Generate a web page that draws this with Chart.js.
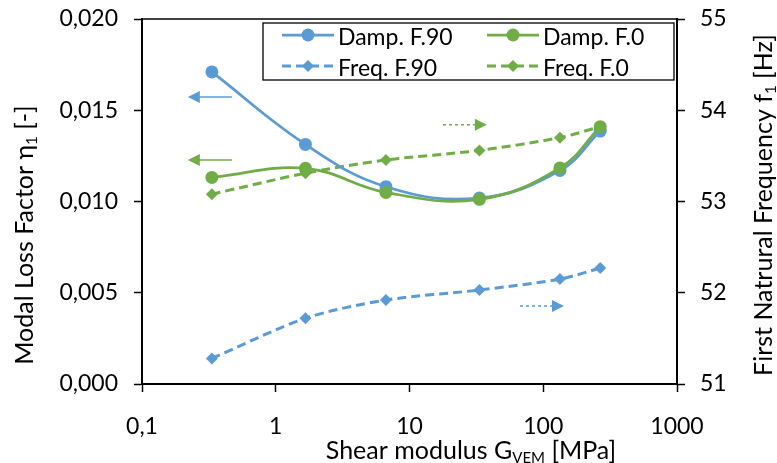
<!DOCTYPE html>
<html>
<head>
<meta charset="utf-8">
<script src="https://cdn.jsdelivr.net/npm/chart.js@4.4.0/dist/chart.umd.min.js"></script>
<style>
  html, body { margin: 0; padding: 0; background: #fff; }
  #wrap { width: 777px; height: 463px; }
</style>
</head>
<body>
<div id="wrap"><canvas id="myChart"></canvas></div>
<script>
// data
const shearModulus = [0.333, 1.667, 6.667, 33.33, 133.3, 266.7];
const dampF90 = [0.01710, 0.01313, 0.01081, 0.01019, 0.01170, 0.01386];
const dampF0  = [0.01132, 0.01182, 0.01050, 0.01012, 0.01184, 0.01410];
const freqF90 = [51.28, 51.72, 51.92, 52.03, 52.15, 52.27];
const freqF0  = [53.08, 53.31, 53.455, 53.56, 53.70, 53.82];
const xTicks = [0.1, 1, 10, 100, 1000];

// arrows pointing to the axis each series belongs to (data units)
const arrowTail = [0.47, 0.47, 17.8, 67];
const arrowHead = [0.22, 0.22, 37.9, 143];
const arrowLevel = [0.01573, 0.01227, 53.84, 51.855];
const arrowAxis = ['y', 'y', 'y2', 'y2'];

const BLUE = '#5b9bd5';
const GREEN = '#70ad47';
const arrowColor = [BLUE, GREEN, GREEN, BLUE];
const FONT = 'Lato, "Open Sans", sans-serif';

const pts = (ys) => ys.map((v, i) => ({ x: shearModulus[i], y: v }));

const data = {
  datasets: [
    { label: 'Damp. F.90', data: pts(dampF90), yAxisID: 'y', borderColor: BLUE, backgroundColor: BLUE,
      borderWidth: 2.75, pointStyle: 'circle', pointRadius: 6.5, pointBorderWidth: 0, tension: 0.4, order: 1 },
    { label: 'Damp. F.0', data: pts(dampF0), yAxisID: 'y', borderColor: GREEN, backgroundColor: GREEN,
      borderWidth: 2.75, pointStyle: 'circle', pointRadius: 6.5, pointBorderWidth: 0, tension: 0.4, order: 0 },
    { label: 'Freq. F.90', data: pts(freqF90), yAxisID: 'y2', borderColor: BLUE, backgroundColor: BLUE,
      borderWidth: 3, borderDash: [9, 5], pointStyle: 'rectRot', pointRadius: 6, pointBorderWidth: 0, tension: 0.3, order: 3 },
    { label: 'Freq. F.0', data: pts(freqF0), yAxisID: 'y2', borderColor: GREEN, backgroundColor: GREEN,
      borderWidth: 3, borderDash: [9, 5], pointStyle: 'rectRot', pointRadius: 6, pointBorderWidth: 0, tension: 0.3, order: 2 }
  ]
};

// text with a subscript part, parts = [[text, isSub], ...]
function richText(ctx, parts, x, y, rot, size) {
  ctx.save();
  ctx.translate(x, y);
  ctx.rotate(rot);
  const subSize = Math.round(size * 0.6);
  let total = 0;
  const widths = parts.map(p => {
    ctx.font = (p[1] ? subSize : size) + 'px ' + FONT;
    const w = ctx.measureText(p[0]).width;
    total += w;
    return w;
  });
  let cx = -total / 2;
  ctx.fillStyle = '#000';
  ctx.textBaseline = 'alphabetic';
  ctx.textAlign = 'left';
  parts.forEach((p, i) => {
    ctx.font = (p[1] ? subSize : size) + 'px ' + FONT;
    ctx.fillText(p[0], cx, p[1] ? size * 0.14 : 0);
    cx += widths[i];
  });
  ctx.restore();
}

const decorations = {
  id: 'decorations',
  afterDatasetsDraw(chart) {
    const { ctx, chartArea, scales } = chart;
    ctx.save();

    // top frame line
    ctx.strokeStyle = '#000';
    ctx.lineWidth = 1.5;
    ctx.beginPath();
    ctx.moveTo(chartArea.left, chartArea.top);
    ctx.lineTo(chartArea.right, chartArea.top);
    ctx.stroke();

    // arrows
    for (let i = 0; i < arrowTail.length; i++) {
      const x0 = scales.x.getPixelForValue(arrowTail[i]);
      const x1 = scales.x.getPixelForValue(arrowHead[i]);
      const y = scales[arrowAxis[i]].getPixelForValue(arrowLevel[i]);
      const dir = x1 > x0 ? 1 : -1;
      ctx.strokeStyle = arrowColor[i];
      ctx.fillStyle = arrowColor[i];
      ctx.lineWidth = 1.5;
      ctx.setLineDash(arrowAxis[i] == 'y2' ? [3, 3] : []);
      ctx.beginPath();
      ctx.moveTo(x0, y);
      ctx.lineTo(x1 - dir * 10, y);
      ctx.stroke();
      ctx.setLineDash([]);
      ctx.beginPath();
      ctx.moveTo(x1, y);
      ctx.lineTo(x1 - dir * 12, y - 6);
      ctx.lineTo(x1 - dir * 12, y + 6);
      ctx.closePath();
      ctx.fill();
    }

    // legend box
    const bx = 263, by = 23, bw = 411, bh = 57;
    ctx.fillStyle = '#fff';
    ctx.fillRect(bx, by, bw, bh);
    ctx.strokeStyle = '#000';
    ctx.lineWidth = 1.3;
    ctx.strokeRect(bx, by, bw, bh);
    const legendOrder = [0, 1, 2, 3];
    legendOrder.forEach((idx, i) => {
      const ds = chart.data.datasets[idx];
      const col = i % 2, row = Math.floor(i / 2);
      const lx = 282 + col * 205;
      const ly = 35 + row * 31;
      ctx.strokeStyle = ds.borderColor;
      ctx.lineWidth = ds.borderWidth;
      ctx.setLineDash(ds.borderDash || []);
      ctx.beginPath();
      ctx.moveTo(lx, ly);
      ctx.lineTo(lx + 52, ly);
      ctx.stroke();
      ctx.setLineDash([]);
      ctx.fillStyle = ds.backgroundColor;
      Chart.helpers.drawPoint(ctx, { pointStyle: ds.pointStyle, radius: ds.pointRadius, borderWidth: 0, rotation: 0 }, lx + 26, ly);
      ctx.fillStyle = '#000';
      ctx.font = '23px ' + FONT;
      ctx.textBaseline = 'alphabetic';
      ctx.textAlign = 'left';
      ctx.fillText(ds.label, lx + 56, ly + 10);
    });
    ctx.restore();

    // axis titles
    richText(ctx, [['Shear modulus G', false], ['VEM', true], [' [MPa]', false]], 471, 459, 0, 25);
    richText(ctx, [['Modal Loss Factor \u03b7', false], ['1', true], [' [-]', false]], 33, 235, -Math.PI / 2, 25);
    richText(ctx, [['First Natrural Frequency f', false], ['1', true], [' [Hz]', false]], 772, 205, -Math.PI / 2, 25);
  }
};

const axisLine = { display: true, color: '#000', width: 2 };
const tickGrid = { display: true, drawOnChartArea: false, drawTicks: true, tickLength: 8, tickColor: '#000', tickWidth: 1.5 };
const tickFont = { family: FONT, size: 23 };
const noPad = (s) => { s.paddingTop = 0; s.paddingBottom = 0; s.paddingLeft = 0; s.paddingRight = 0; };

const config = {
  type: 'line',
  data,
  options: {
    responsive: false,
    animation: false,
    layout: { padding: { top: 19, left: 0, right: 0, bottom: 0 } },
    plugins: { legend: { display: false }, tooltip: { enabled: false } },
    scales: {
      x: {
        type: 'logarithmic', position: 'bottom', min: 0.1, max: 1000,
        border: axisLine, grid: tickGrid,
        afterBuildTicks(s) { s.ticks = xTicks.map(v => ({ value: v })); },
        afterFit(s) { s.height = 79; noPad(s); },
        ticks: { color: '#000', font: tickFont, padding: 21, autoSkip: false, maxRotation: 0,
          callback: v => String(v).replace('.', ',') }
      },
      y: {
        position: 'left', min: 0, max: 0.02,
        border: axisLine, grid: tickGrid,
        afterFit(s) { s.width = 142; noPad(s); },
        ticks: { color: '#000', font: tickFont, padding: 16, stepSize: 0.005,
          callback: v => v.toFixed(3).replace('.', ',') }
      },
      y2: {
        position: 'right', min: 51, max: 55,
        border: axisLine, grid: tickGrid,
        afterFit(s) { s.width = 100; noPad(s); },
        ticks: { color: '#000', font: tickFont, padding: 15, stepSize: 1 }
      }
    }
  },
  plugins: [decorations]
};

const canvas = document.getElementById('myChart');
canvas.width = 777;
canvas.height = 463;
const chart = new Chart(canvas, config);
</script>
</body>
</html>
